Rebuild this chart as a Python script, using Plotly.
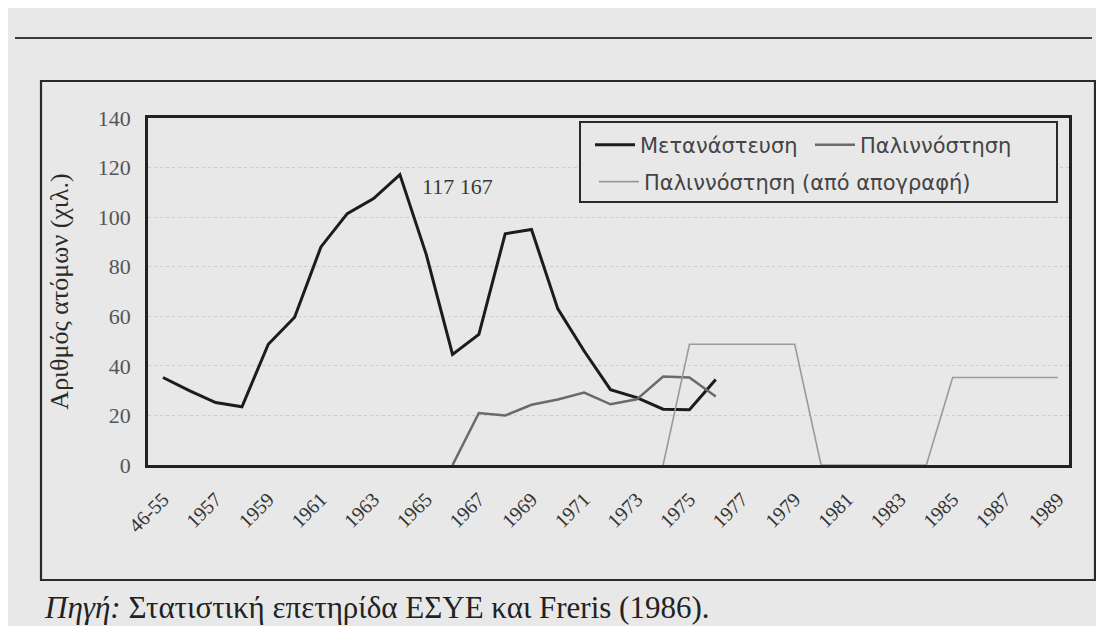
import plotly.graph_objects as go

# ---------------- data ----------------
categories = ["46-55"] + [str(y) for y in range(1956, 1990)]
tick_labels = categories[0::2]

migration_x = categories[0:22]
migration = [35.3, 30.0, 25.2, 23.5, 48.7, 59.6, 88.0, 101.4, 107.5, 117.167, 85.0,
             44.6, 52.7, 93.3, 95.0, 63.0, 46.0, 30.4, 27.2, 22.5, 22.3, 34.5]

return_x = categories[11:22]
return_mig = [0.0, 21.0, 20.0, 24.3, 26.4, 29.2, 24.5, 26.5, 35.7, 35.3, 27.6]

census_x = categories[19:35]
census_return = [0.0, 48.7, 48.7, 48.7, 48.7, 48.7, 0.0, 0.0, 0.0, 0.0, 0.0,
                 35.3, 35.3, 35.3, 35.3, 35.3]

peak_label = "117 167"
peak_index = 9

# ---------------- layout geometry ----------------
# the page body has an 8px margin; figure pixels = screen pixels - OFF
OFF = 8
W, H = 1104 - OFF, 626 - OFF
PL, PR, PT, PB = 148 - OFF, 1069 - OFF, 118 - OFF, 465 - OFF
pw, ph = PR - PL, PB - PT


def px(x):  # screen x -> paper x
    return (x - OFF - PL) / pw


def py(y):  # screen y -> paper y
    return (PB - (y - OFF)) / ph


BG = "#e8e8e8"
SERIF = "Liberation Serif, Times New Roman, serif"
SANS = "DejaVu Sans, Verdana, sans-serif"

fig = go.Figure()
fig.add_trace(go.Scatter(x=migration_x, y=migration, mode="lines", name="Μετανάστευση",
                         line=dict(color="#1c1c1c", width=3), legend="legend"))
fig.add_trace(go.Scatter(x=return_x, y=return_mig, mode="lines", name="Παλιννόστηση",
                         line=dict(color="#6a6a6a", width=2.5), legend="legend2"))
fig.add_trace(go.Scatter(x=census_x, y=census_return, mode="lines",
                         name="Παλιννόστηση (από απογραφή)",
                         line=dict(color="#9a9a9a", width=1.6), legend="legend3"))

# category axes take the category's serial number for annotations
fig.add_annotation(x=peak_index, y=migration[peak_index], text=peak_label,
                   showarrow=False, xanchor="left", yanchor="middle", xshift=20, yshift=-12,
                   font=dict(family=SERIF, size=22, color="#3a3a3a"))

shapes = [
    # outer frame
    dict(type="rect", xref="paper", yref="paper", x0=px(41), x1=px(1095), y0=py(580), y1=py(81),
         line=dict(color="#2a2a2a", width=2.2), layer="below"),
    # horizontal rule at top
    dict(type="line", xref="paper", yref="paper", x0=px(15), x1=px(1092), y0=py(38), y1=py(38),
         line=dict(color="#3a3a3a", width=2.2)),
    # legend box
    dict(type="rect", xref="paper", yref="paper", x0=px(580), x1=px(1057), y0=py(202), y1=py(122),
         line=dict(color="#2a2a2a", width=2), fillcolor=BG, layer="above"),
]

legend_font = dict(family=SANS, size=21, color="#444444")
legend_common = dict(xanchor="left", yanchor="middle", bgcolor="rgba(0,0,0,0)",
                     borderwidth=0, font=legend_font, itemwidth=40)

fig.update_layout(
    width=W, height=H,
    margin=dict(l=PL, r=W - PR, t=PT, b=H - PB, pad=0),
    paper_bgcolor=BG, plot_bgcolor=BG,
    showlegend=True,
    legend=dict(x=px(590), y=py(145), **legend_common),
    legend2=dict(x=px(810), y=py(145), **legend_common),
    legend3=dict(x=px(594), y=py(182), **legend_common),
    shapes=shapes,
)

fig.update_xaxes(
    type="category", categoryorder="array", categoryarray=categories,
    range=[-0.57, 34.42],
    tickmode="array", tickvals=tick_labels, ticktext=tick_labels,
    tickangle=-45, ticks="", ticklabelstandoff=12,
    tickfont=dict(family=SERIF, size=20, color="#333333"),
    showgrid=False, zeroline=False,
    showline=True, linecolor="#222222", linewidth=2.5, mirror=True,
)
fig.update_yaxes(
    range=[0, 140], tickvals=[0, 20, 40, 60, 80, 100, 120, 140],
    ticks="", ticklabelstandoff=10,
    tickfont=dict(family=SERIF, size=22, color="#555555"),
    showgrid=True, gridcolor="#cbcbcb", gridwidth=1, griddash="dot",
    zeroline=False,
    showline=True, linecolor="#222222", linewidth=2.5, mirror=True,
    title=dict(text="Αριθμός ατόμων (χιλ.)", standoff=22,
               font=dict(family=SERIF, size=26, color="#2a2a2a")),
)

fig.add_annotation(xref="paper", yref="paper", x=px(42), y=py(627), xanchor="left", yanchor="bottom",
                   text="<i>Πηγή:</i> Στατιστική επετηρίδα ΕΣΥΕ και Freris (1986).",
                   showarrow=False, font=dict(family=SERIF, size=31, color="#222222"))

fig.write_html("out.html")
